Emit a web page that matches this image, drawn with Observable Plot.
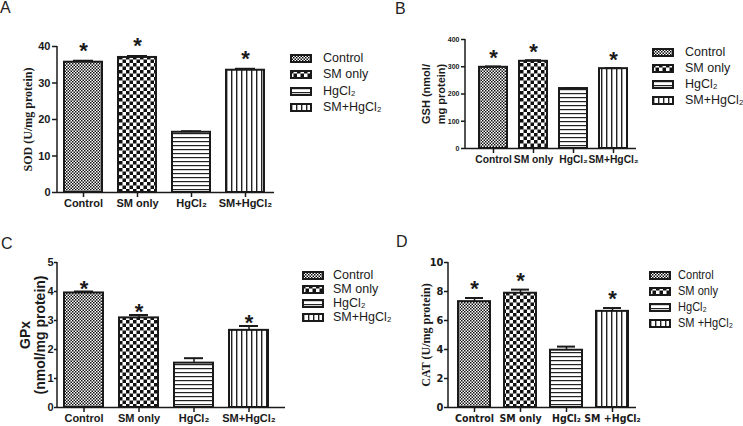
<!DOCTYPE html>
<html><head><meta charset="utf-8">
<script src="https://cdn.jsdelivr.net/npm/d3@7"></script>
<script src="https://cdn.jsdelivr.net/npm/@observablehq/plot@0.6"></script>
<style>
body{margin:0;background:#fff;}
#root{position:relative;width:743px;height:426px;overflow:hidden;background:#fff;font-family:"Liberation Sans",Arial,sans-serif;color:#1a1a1a;}
.panel{position:absolute;}
.letter{position:absolute;font-size:16px;line-height:16px;color:#222;}
.row{position:absolute;height:14px;line-height:14px;white-space:nowrap;}
.row svg{position:absolute;left:0;top:3px;}
.row span{position:absolute;top:0;transform-origin:left center;}
</style></head><body>
<svg width="0" height="0" style="position:absolute">
<defs>
<pattern id="pCtrl" width="3" height="3" patternUnits="userSpaceOnUse"><rect width="3" height="3" fill="#fff"/><rect width="1.5" height="1.5" fill="#111"/><rect x="1.5" y="1.5" width="1.5" height="1.5" fill="#111"/></pattern>
<pattern id="pSm" width="7" height="7" patternUnits="userSpaceOnUse"><rect width="7" height="7" fill="#fff"/><rect width="3.5" height="3.5" fill="#111"/><rect x="3.5" y="3.5" width="3.5" height="3.5" fill="#111"/></pattern>
<pattern id="pHg" width="4" height="4" patternUnits="userSpaceOnUse"><rect width="4" height="4" fill="#fff"/><rect y="1" width="4" height="1.2" fill="#222"/></pattern>
<pattern id="pSmHg" width="5" height="5" patternUnits="userSpaceOnUse"><rect width="5" height="5" fill="#fff"/><rect x="1" width="1.4" height="5" fill="#222"/></pattern>
</defs></svg>
<div id="root"></div>
<script>
// ---- data ----
const categories = ["Control", "SM only", "HgCl₂", "SM+HgCl₂"];
const categoriesD = ["Control", "SM only", "HgCl₂", "SM +HgCl₂"];
const significant = [true, true, false, true];

const sodValues = [35.7, 37.0, 16.5, 33.5];
const sodErrors = [0.4, 0.4, 0.3, 0.4];
const sodTicks = [0, 10, 20, 30, 40];

const gshValues = [298, 320, 220, 293];
const gshErrors = [3, 4, 2, 2];
const gshTicks = [0, 100, 200, 300, 400];

const gpxValues = [3.95, 3.09, 1.53, 2.66];
const gpxErrors = [0.05, 0.10, 0.17, 0.15];
const gpxTicks = [0, 1, 2, 3, 4, 5];

const catValues = [7.30, 7.88, 3.95, 6.63];
const catErrors = [0.25, 0.25, 0.25, 0.23];
const catTicks = [0, 2, 4, 6, 8, 10];

const patternUrls = ["url(#pCtrl)", "url(#pSm)", "url(#pHg)", "url(#pSmHg)"];

const root = document.getElementById("root");
const SANS = "'Liberation Sans', Arial, sans-serif";
const NARROW = "'Liberation Sans Narrow', 'Arial Narrow', 'DejaVu Sans Condensed', 'Liberation Sans', Arial, sans-serif";
const SERIF = "'Liberation Serif', 'Times New Roman', serif";

const axisLine = (index, scales, values, dims) => {
  const l = document.createElementNS("http://www.w3.org/2000/svg", "line");
  l.setAttribute("x1", dims.marginLeft);
  l.setAttribute("x2", dims.marginLeft);
  l.setAttribute("y1", dims.marginTop);
  l.setAttribute("y2", dims.height - dims.marginBottom);
  l.setAttribute("stroke", "currentColor");
  l.setAttribute("stroke-width", 1.5);
  return l;
};

function makePanel(c) {
  const data = c.cats.map((cat, i) => ({cat, v: c.values[i], e: c.errors[i], sig: significant[i]}));
  const chart = Plot.plot({
    width: c.width, height: c.height,
    marginLeft: c.ml, marginRight: c.mr, marginTop: c.mt, marginBottom: c.mb,
    style: {fontFamily: c.font, color: "#1a1a1a", background: "transparent", overflow: "visible"},
    x: {domain: c.cats, range: c.xRange, paddingInner: c.pad, paddingOuter: c.pad / 2, axis: null, label: null},
    y: {domain: c.yDomain, axis: null, label: null},
    color: {domain: c.cats, range: patternUrls},
    marks: [
      Plot.barY(data, {x: "cat", y: "v", fill: "cat", stroke: "#1a1a1a", strokeWidth: 2}),
      Plot.ruleX(data, {x: "cat", y1: "v", y2: d => d.v + d.e, stroke: "#1a1a1a", strokeWidth: 1.5}),
      Plot.tickY(data, {x: "cat", y: d => d.v + d.e, stroke: "#1a1a1a", strokeWidth: 2, inset: c.capInset}),
      Plot.text(data.filter(d => d.sig), {x: "cat", y: d => d.v + d.e, text: d => "*", fontSize: 22, fontWeight: "bold", fontFamily: SANS, lineAnchor: "bottom", dy: c.starDy}),
      Plot.ruleY([0], {stroke: "#1a1a1a", strokeWidth: 1.5}),
      axisLine,
      Plot.axisY({ticks: c.ticks, tickFormat: "d", tickSize: c.yTickSize, tickPadding: c.yPad, fontSize: c.yFont, fontWeight: "bold", strokeWidth: 1.5, label: null}),
      Plot.axisX({tickSize: 5, tickPadding: 2, fontSize: c.xFont, fontWeight: "bold", strokeWidth: 1.5, label: null}),
      Plot.text([c.yLabel], {frameAnchor: "left", rotate: -90, dx: c.labelDx, fontSize: c.labelSize, fontWeight: "bold", fontFamily: c.labelFont, lineHeight: c.lineHeight, lineAnchor: "middle", textAnchor: "middle"})
    ]
  });
  chart.classList.add("panel");
  chart.style.left = c.left + "px";
  chart.style.top = c.top + "px";
  root.appendChild(chart);
}

function legend(c) {
  c.labels.forEach((lab, i) => {
    const row = document.createElement("div");
    row.className = "row";
    row.style.left = c.left + "px";
    row.style.top = (c.first + i * c.gap - 7) + "px";
    row.style.fontFamily = c.font;
    row.style.fontSize = c.fontSize + "px";
    const sw = document.createElementNS("http://www.w3.org/2000/svg", "svg");
    sw.setAttribute("width", 22); sw.setAttribute("height", 9);
    const r = document.createElementNS("http://www.w3.org/2000/svg", "rect");
    r.setAttribute("x", 1); r.setAttribute("y", 1); r.setAttribute("width", 20); r.setAttribute("height", 7);
    r.setAttribute("fill", patternUrls[i]); r.setAttribute("stroke", "#1a1a1a"); r.setAttribute("stroke-width", 2);
    sw.appendChild(r);
    row.appendChild(sw);
    const sp = document.createElement("span");
    sp.style.left = c.textOffset + "px";
    if (c.squeeze) sp.style.transform = "scaleX(" + c.squeeze + ")";
    sp.textContent = lab;
    row.appendChild(sp);
    root.appendChild(row);
  });
}

function letter(t, left, top) {
  const d = document.createElement("div");
  d.className = "letter"; d.textContent = t;
  d.style.left = left + "px"; d.style.top = top + "px";
  root.appendChild(d);
}

// Panel A
makePanel({cats: categories, values: sodValues, errors: sodErrors, ticks: sodTicks, yDomain: [0, 40],
  left: 0, top: 0, width: 290, height: 215, ml: 57, mr: 16, mt: 46, mb: 23, xRange: [55, 273], pad: 0.3,
  font: SANS, yFont: 11, xFont: 11, yTickSize: 5, yPad: 2, capInset: 9, starDy: -3,
  yLabel: "SOD (U/mg protein)", labelFont: SERIF, labelSize: 12, labelDx: -30, lineHeight: 1.2});
// Panel B
makePanel({cats: categories, values: gshValues, errors: gshErrors, ticks: gshTicks, yDomain: [0, 400],
  left: 380, top: 0, width: 280, height: 215, ml: 85, mr: 24, mt: 39, mb: 67, xRange: [91.5, 255], pad: 0.31,
  font: SANS, yFont: 7, xFont: 10.3, yTickSize: 4, yPad: 2, capInset: 6, starDy: -1,
  yLabel: "GSH (nmol/\nmg protein)", labelFont: SANS, labelSize: 11, labelDx: -32.5, lineHeight: 1.3});
// Panel C
makePanel({cats: categories, values: gpxValues, errors: gpxErrors, ticks: gpxTicks, yDomain: [0, 5],
  left: 0, top: 215, width: 300, height: 211, ml: 57, mr: 15, mt: 47, mb: 19, xRange: [55, 277], pad: 0.29,
  font: SANS, yFont: 11, xFont: 11, yTickSize: 3, yPad: 1, capInset: 10, starDy: 4,
  yLabel: "GPx\n(nmol/mg protein)", labelFont: SANS, labelSize: 14, labelDx: -25, lineHeight: 1.05});
// Panel D
makePanel({cats: categoriesD, values: catValues, errors: catErrors, ticks: catTicks, yDomain: [0, 10],
  left: 380, top: 215, width: 280, height: 211, ml: 68, mr: 24, mt: 47, mb: 19, xRange: [71, 255], pad: 0.3,
  font: NARROW, yFont: 11, xFont: 10.5, yTickSize: 4, yPad: 1, capInset: 7, starDy: -2,
  yLabel: "CAT (U/mg protein)", labelFont: SERIF, labelSize: 12, labelDx: -23, lineHeight: 1.2});

legend({labels: categories, left: 290, first: 58.3, gap: 16.1, textOffset: 33, font: SANS, fontSize: 12.5});
legend({labels: categories, left: 652, first: 51.7, gap: 16.2, textOffset: 33, font: SANS, fontSize: 12.5});
legend({labels: categories, left: 302, first: 274.5, gap: 14, textOffset: 31, font: SANS, fontSize: 12.5});
legend({labels: categoriesD, left: 649, first: 274.5, gap: 16.3, textOffset: 29, font: SANS, fontSize: 13, squeeze: 0.85});

letter("A", 0, 0);
letter("B", 395, 1);
letter("C", 1, 236);
letter("D", 396, 234);
</script>
</body></html>
